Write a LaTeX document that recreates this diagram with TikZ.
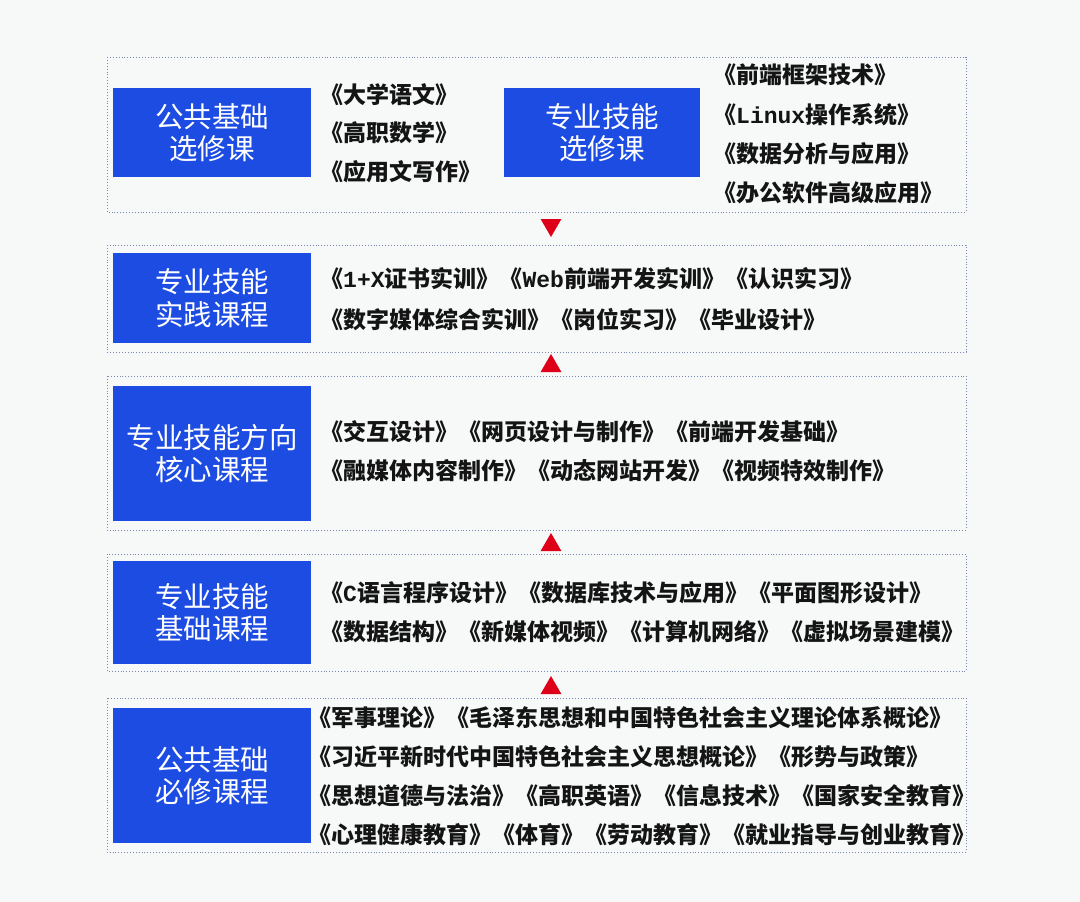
\documentclass[tikz,border=0pt]{standalone}
\usepackage{fontspec}
\setmainfont{Noto Sans CJK SC}
\newfontfamily\latinfont{Liberation Mono}
\usetikzlibrary{shapes.geometric}
\definecolor{mybg}{RGB}{246,249,248}
\definecolor{myblue}{RGB}{29,76,226}
\definecolor{mygray}{RGB}{120,134,176}
\definecolor{myred}{RGB}{222,0,24}
\newcommand*{\mylabelstyle}{\fontsize{28.5}{32.5}\selectfont\color{white}}
\newcommand*{\myitemstyle}{\fontsize{23}{26}\selectfont\bfseries\color{black!92}}
\newcommand{\courselayer}[6]{%
   % name, outer top, outer bottom, blue top, blue bottom, label
   \pgfmathsetmacro{\ytop}{#2}
   \pgfmathsetmacro{\ybot}{#3}
   \pgfmathsetmacro{\btop}{#4}
   \pgfmathsetmacro{\bbot}{#5}
   \draw[layerline] (107,\ytop) rectangle (966,\ybot);
   \node[
      bluebox,
      minimum height = \bbot-\btop
   ] (#1) at (212,{(\btop+\bbot)/2}) {#6};
}
\tikzset{
   layerline/.style = {mygray, line width=0.9pt, dash pattern=on 0.9pt off 2pt},
   bluebox/.style   = {fill=myblue, minimum width=198, inner sep=0pt,
                       font=\mylabelstyle, align=center},
   item/.style      = {font=\myitemstyle, anchor=west, inner sep=0pt},
   uptri/.style     = {regular polygon, regular polygon sides=3, fill=myred,
                       inner sep=0pt, minimum size=24},
   downtri/.style   = {uptri, shape border rotate=180}
}

\begin{document}
\begin{tikzpicture}[x=1pt, y=-1pt]
   \fill[mybg] (0,0) rectangle (1080,902);
   \useasboundingbox (0,0) rectangle (1080,902);

   \courselayer{pubelec}{57}{212}{88}{177}{公共基础\\选修课}
   \node[bluebox, minimum width=196, minimum height=89] (proelec) at (602,132.5)
      {专业技能\\选修课};
   \courselayer{practice}{245}{352}{253}{343}{专业技能\\实践课程}
   \courselayer{core}{376}{530}{386}{521}{专业技能方向\\核心课程}
   \courselayer{basic}{554}{671}{561}{664}{专业技能\\基础课程}
   \courselayer{pubreq}{698}{852}{708}{843}{公共基础\\必修课程}

   % arrows between the layers
   \node[downtri] (arr1) at (551,225) {};
   \node[uptri]   (arr2) at (551,366) {};
   \node[uptri]   (arr3) at (551,545) {};
   \node[uptri]   (arr4) at (551,688) {};

   % elective courses
   \node[item] (pubelec1) at (320,95)  {《大学语文》};
   \node[item] (pubelec2) at (320,133) {《高职数学》};
   \node[item] (pubelec3) at (320,172) {《应用文写作》};
   \node[item] (proelec1) at (713,75)  {《前端框架技术》};
   \node[item] (proelec2) at (713,115) {《{\latinfont Linux}操作系统》};
   \node[item] (proelec3) at (713,154) {《数据分析与应用》};
   \node[item] (proelec4) at (713,193) {《办公软件高级应用》};

   % practice courses
   \node[item] (practice1) at (320,279)
      {《{\latinfont 1+X}证书实训》《{\latinfont Web}前端开发实训》《认识实习》};
   \node[item] (practice2) at (320,320)
      {《数字媒体综合实训》《岗位实习》《毕业设计》};

   % core courses
   \node[item] (core1) at (320,432) {《交互设计》《网页设计与制作》《前端开发基础》};
   \node[item] (core2) at (320,471) {《融媒体内容制作》《动态网站开发》《视频特效制作》};

   % basic courses
   \node[item] (basic1) at (320,593)
      {《{\latinfont C}语言程序设计》《数据库技术与应用》《平面图形设计》};
   \node[item] (basic2) at (320,632)
      {《数据结构》《新媒体视频》《计算机网络》《虚拟场景建模》};

   % required public courses
   \node[item] (pubreq1) at (308,718)
      {《军事理论》《毛泽东思想和中国特色社会主义理论体系概论》};
   \node[item] (pubreq2) at (308,757)
      {《习近平新时代中国特色社会主义思想概论》《形势与政策》};
   \node[item] (pubreq3) at (308,796)
      {《思想道德与法治》《高职英语》《信息技术》《国家安全教育》};
   \node[item] (pubreq4) at (308,835)
      {《心理健康教育》《体育》《劳动教育》《就业指导与创业教育》};
\end{tikzpicture}
\end{document}
